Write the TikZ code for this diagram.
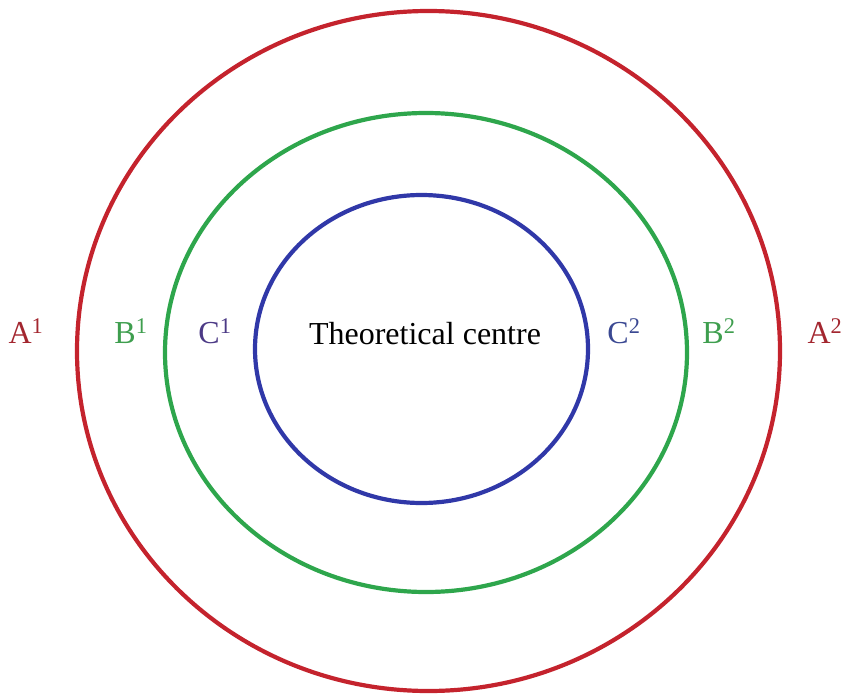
\documentclass[tikz,border=0pt]{standalone}
\usepackage{fontspec}
\setmainfont{Liberation Serif}
\definecolor{ringred}{HTML}{C4232D}
\definecolor{ringgreen}{HTML}{2EA64C}
\definecolor{ringblue}{HTML}{3038A8}
\definecolor{labred}{HTML}{A3262F}
\definecolor{labgreen}{HTML}{3E9E4E}
\definecolor{labpurple}{HTML}{4C3A86}
\definecolor{labblue}{HTML}{3A4892}
\tikzset{ring/.style={line width=4.2pt},
  lab/.style={anchor=base, inner sep=0pt, font=\fontsize{32}{36}\selectfont}}
\begin{document}
\begin{tikzpicture}[x=1pt,y=-1pt]
\useasboundingbox (0,0) rectangle (841,696);
\draw[ring, ringred] (428.5,351) ellipse [x radius=351.5, y radius=340];
\draw[ring, ringgreen] (426,352.5) ellipse [x radius=261, y radius=239.5];
\draw[ring, ringblue] (421.5,349) ellipse [x radius=166.5, y radius=154];

\node[lab] (centre) at (425,344) {Theoretical centre};
\node[lab, labred] (a1) at (26,343) {A\textsuperscript{1}};
\node[lab, labgreen] (b1) at (131,343) {B\textsuperscript{1}};
\node[lab, labpurple] (c1) at (215,343) {C\textsuperscript{1}};
\node[lab, labblue] (c2) at (624,343) {C\textsuperscript{2}};
\node[lab, labgreen] (b2) at (719,343) {B\textsuperscript{2}};
\node[lab, labred] (a2) at (825,343) {A\textsuperscript{2}};
\end{tikzpicture}
\end{document}
